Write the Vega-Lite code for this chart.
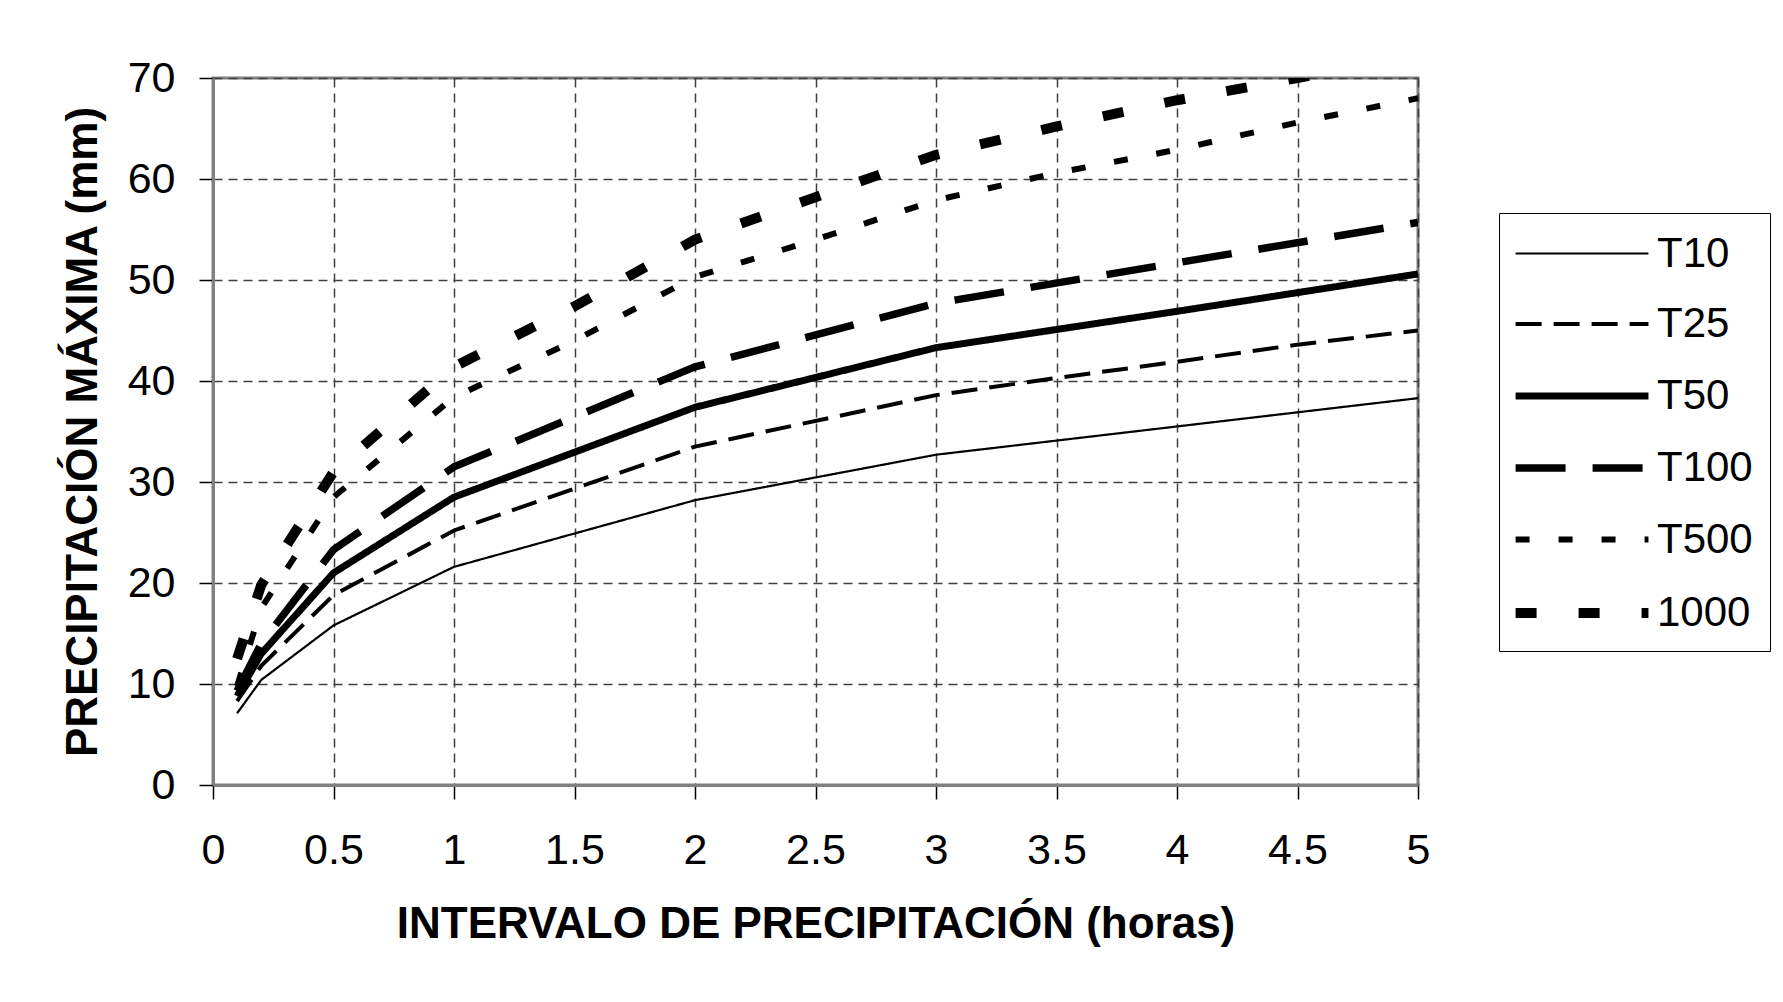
{
  "$schema": "https://vega.github.io/schema/vega-lite/v6.json",
  "width": 1205,
  "height": 707,
  "autosize": {"type": "none"},
  "padding": {"left": 213, "top": 78, "right": 365, "bottom": 217},
  "background": "white",
  "config": {
    "font": "Liberation Sans",
    "view": {"stroke": "#808080", "strokeWidth": 3},
    "axis": {
      "labelFontSize": 43,
      "titleFontSize": 44,
      "titleFontWeight": "bold",
      "labelColor": "black",
      "titleColor": "black",
      "tickSize": 14,
      "tickColor": "black",
      "tickWidth": 1.5,
      "domainColor": "#808080",
      "domainWidth": 3,
      "grid": true,
      "gridDash": [9, 6],
      "gridColor": "#404040",
      "gridWidth": 1.5,
      "labelFlush": false,
      "labelOverlap": false,
      "labelBound": false
    },
    "legend": {
      "orient": "none",
      "legendX": 1286,
      "legendY": 135,
      "symbolType": "M-1.25,0H4.7",
      "symbolSize": 1995,
      "symbolStrokeColor": "black",
      "labelFontSize": 42,
      "labelColor": "black",
      "labelOffset": 86,
      "labelLimit": 0,
      "padding": 17,
      "rowPadding": 24.5,
      "strokeColor": "black",
      "fillColor": "white"
    }
  },
  "data": {
    "values": [
      {"t": 0.1, "p": 7.1, "s": "T10"},
      {"t": 0.2, "p": 10.4, "s": "T10"},
      {"t": 0.5, "p": 15.8, "s": "T10"},
      {"t": 1, "p": 21.6, "s": "T10"},
      {"t": 2, "p": 28.2, "s": "T10"},
      {"t": 3, "p": 32.7, "s": "T10"},
      {"t": 4, "p": 35.5, "s": "T10"},
      {"t": 5, "p": 38.3, "s": "T10"},
      {"t": 0.1, "p": 8.3, "s": "T25"},
      {"t": 0.2, "p": 11.8, "s": "T25"},
      {"t": 0.5, "p": 18.8, "s": "T25"},
      {"t": 1, "p": 25.2, "s": "T25"},
      {"t": 2, "p": 33.5, "s": "T25"},
      {"t": 3, "p": 38.6, "s": "T25"},
      {"t": 3.5, "p": 40.3, "s": "T25"},
      {"t": 4, "p": 41.9, "s": "T25"},
      {"t": 4.5, "p": 43.6, "s": "T25"},
      {"t": 5, "p": 45.0, "s": "T25"},
      {"t": 0.1, "p": 8.8, "s": "T50"},
      {"t": 0.2, "p": 13.0, "s": "T50"},
      {"t": 0.5, "p": 21.0, "s": "T50"},
      {"t": 1, "p": 28.5, "s": "T50"},
      {"t": 2, "p": 37.4, "s": "T50"},
      {"t": 3, "p": 43.3, "s": "T50"},
      {"t": 4, "p": 46.9, "s": "T50"},
      {"t": 5, "p": 50.6, "s": "T50"},
      {"t": 0.1, "p": 9.3, "s": "T100"},
      {"t": 0.2, "p": 14.0, "s": "T100"},
      {"t": 0.5, "p": 23.3, "s": "T100"},
      {"t": 1, "p": 31.5, "s": "T100"},
      {"t": 2, "p": 41.4, "s": "T100"},
      {"t": 3, "p": 47.7, "s": "T100"},
      {"t": 4, "p": 51.7, "s": "T100"},
      {"t": 5, "p": 55.7, "s": "T100"},
      {"t": 0.1, "p": 9.8, "s": "T500"},
      {"t": 0.2, "p": 17.5, "s": "T500"},
      {"t": 0.5, "p": 28.5, "s": "T500"},
      {"t": 1, "p": 38.4, "s": "T500"},
      {"t": 1.5, "p": 44.0, "s": "T500"},
      {"t": 2, "p": 50.3, "s": "T500"},
      {"t": 2.5, "p": 54.0, "s": "T500"},
      {"t": 3, "p": 57.9, "s": "T500"},
      {"t": 3.5, "p": 60.6, "s": "T500"},
      {"t": 4, "p": 62.9, "s": "T500"},
      {"t": 4.5, "p": 65.6, "s": "T500"},
      {"t": 5, "p": 68.0, "s": "T500"},
      {"t": 0.1, "p": 12.5, "s": "1000"},
      {"t": 0.2, "p": 19.8, "s": "1000"},
      {"t": 0.5, "p": 31.0, "s": "1000"},
      {"t": 1, "p": 41.4, "s": "1000"},
      {"t": 1.5, "p": 47.4, "s": "1000"},
      {"t": 2, "p": 54.0, "s": "1000"},
      {"t": 2.5, "p": 58.2, "s": "1000"},
      {"t": 3, "p": 62.4, "s": "1000"},
      {"t": 3.5, "p": 65.2, "s": "1000"},
      {"t": 4, "p": 67.8, "s": "1000"},
      {"t": 4.5, "p": 70.0, "s": "1000"},
      {"t": 5, "p": 72.3, "s": "1000"}
    ]
  },
  "mark": {"type": "line", "color": "black", "clip": true},
  "encoding": {
    "x": {
      "field": "t",
      "type": "quantitative",
      "scale": {"domain": [0, 5], "nice": false, "zero": false},
      "axis": {
        "title": "INTERVALO DE PRECIPITACIÓN (horas)",
        "values": [0, 0.5, 1, 1.5, 2, 2.5, 3, 3.5, 4, 4.5, 5],
        "format": "~g",
        "labelPadding": 30,
        "titlePadding": 30
      }
    },
    "y": {
      "field": "p",
      "type": "quantitative",
      "scale": {"domain": [0, 70], "nice": false},
      "axis": {
        "title": "PRECIPITACIÓN MÁXIMA (mm)",
        "values": [0, 10, 20, 30, 40, 50, 60, 70],
        "labelPadding": 24,
        "titlePadding": 22
      }
    },
    "strokeDash": {
      "field": "s",
      "type": "ordinal",
      "sort": ["T10", "T25", "T50", "T100", "T500", "1000"],
      "scale": {
        "type": "ordinal",
        "domain": ["T10", "T25", "T50", "T100", "T500", "1000"],
        "range": [[1, 0], [26, 12], [1, 0], [50, 27], [14, 29], [21, 42]]
      },
      "legend": {"title": null}
    },
    "strokeWidth": {
      "field": "s",
      "type": "ordinal",
      "sort": ["T10", "T25", "T50", "T100", "T500", "1000"],
      "scale": {
        "type": "ordinal",
        "domain": ["T10", "T25", "T50", "T100", "T500", "1000"],
        "range": [2.2, 4, 7, 7.5, 6, 10]
      },
      "legend": {"title": null}
    }
  }
}
